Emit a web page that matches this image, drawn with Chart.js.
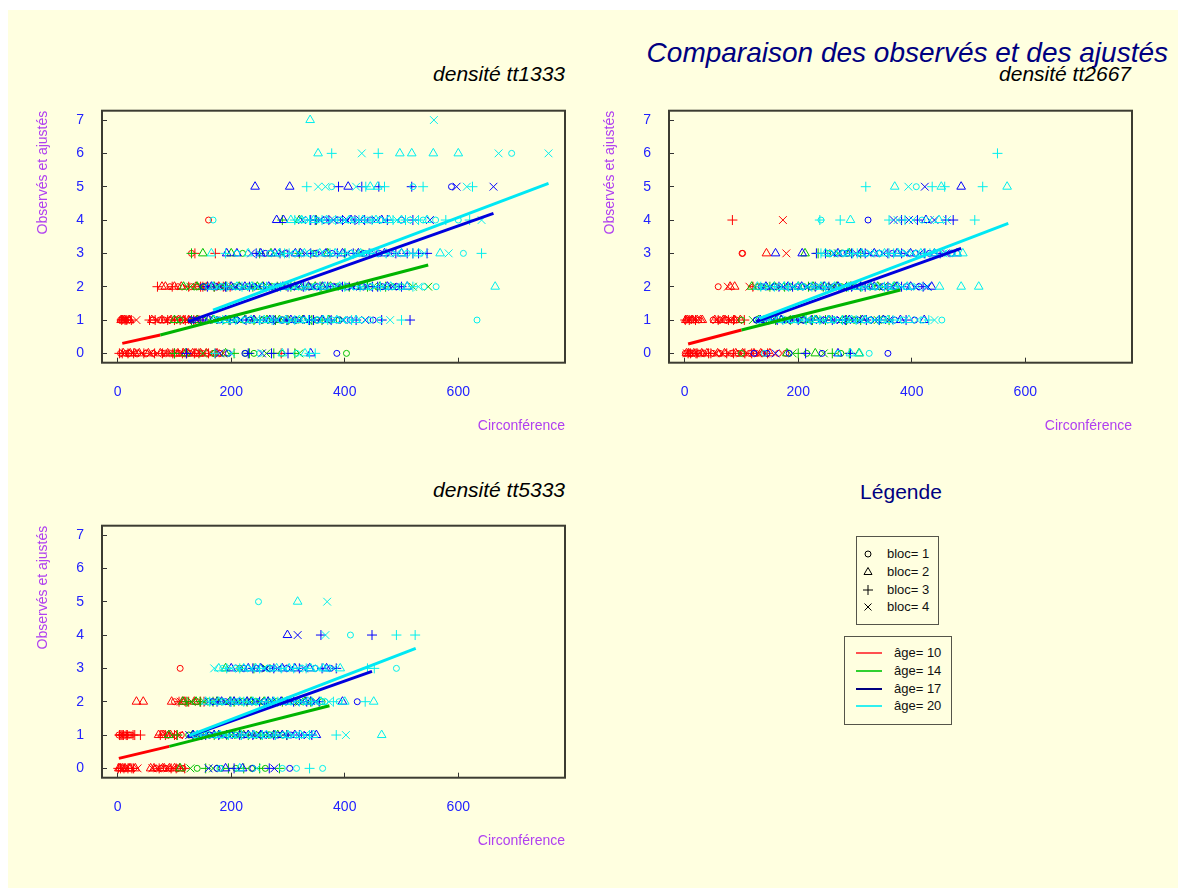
<!DOCTYPE html>
<html>
<head>
<meta charset="utf-8">
<script src="https://cdn.jsdelivr.net/npm/chart.js"></script>
<style>
  html, body { margin: 0; padding: 0; background: #fff; width: 1178px; height: 890px; overflow: hidden; font-family: "Liberation Sans", Arial, sans-serif; }
  #bg { position: absolute; left: 8px; top: 10px; width: 1170px; height: 878px; background: #ffffe0; }
  canvas.panel { position: absolute; }
  .t { position: absolute; white-space: nowrap; line-height: 1; }
  .box { position: absolute; border: 1.5px solid #55554a; box-sizing: border-box; }
  .row { position: absolute; height: 16px; line-height: 16px; font-size: 13px; color: #111; }
</style>
</head>
<body>
<div id="bg"></div>
<div class="t" style="right:10px;top:39px;font-size:28px;font-style:italic;color:#000080">Comparaison des observés et des ajustés</div>
<div class="t" style="right:613px;top:63px;font-size:21px;font-style:italic;color:#000">densité tt1333</div>
<div class="t" style="right:47px;top:63px;font-size:21px;font-style:italic;color:#000">densité tt2667</div>
<div class="t" style="right:613px;top:479px;font-size:21px;font-style:italic;color:#000">densité tt5333</div>

<canvas class="panel" id="c1333" width="590" height="450" style="left:0;top:0"></canvas>
<canvas class="panel" id="c2667" width="590" height="450" style="left:567px;top:0"></canvas>
<canvas class="panel" id="c5333" width="590" height="450" style="left:0;top:415px"></canvas>

<div class="t" style="left:851px;width:100px;text-align:center;top:481px;font-size:21px;color:#000080">Légende</div>
<div class="box" style="left:856px;top:536px;width:83px;height:89px"></div>
<div class="box" style="left:844px;top:636px;width:108px;height:89px"></div>
<div id="legend"></div>

<script>
// categories
const AGES = [10, 14, 17, 20];
const BLOCS = [1, 2, 3, 4];
const X_TICKS = [0, 200, 400, 600];
const Y_TICKS = [0, 1, 2, 3, 4, 5, 6, 7];

// observed points: [circonférence, observé, bloc]
const T1333_A10 = [
  [5,0,1],[8,0,3],[10,0,2],[12,0,4],[15,0,1],[18,0,3],[22,0,2],[26,0,4],[30,0,2],[35,0,1],[42,0,4],[50,0,1],[58,0,4],[65,0,3],[75,0,2],[82,0,1],[88,0,2],[92,0,4],[97,0,3],[102,0,1],[106,0,2],[110,0,4],[114,0,3],[118,0,1],[124,0,2],[130,0,4],[135,0,3],[140,0,1],[146,0,2],[152,0,4],[160,0,3],[168,0,1],[175,0,2],[186,0,4],[288,0,3],
  [3,0,3],[20,0,1],[28,0,3],[38,0,2],[46,0,3],[54,0,2],[62,0,1],[70,0,4],[79,0,3],[85,0,4],[95,0,1],[100,0,3],[108,0,1],[116,0,2],[121,0,3],[127,0,1],[132,0,2],[138,0,2],[143,0,3],[149,0,1],[156,0,2],[164,0,4],[172,0,3],[180,0,1],
  [5,1,1],[7,1,3],[9,1,2],[11,1,1],[13,1,3],[15,1,4],[18,1,1],[21,1,2],[24,1,3],[33,1,4],[56,1,3],[62,1,1],[70,1,4],[78,1,2],[82,1,1],[88,1,3],[94,1,2],[98,1,4],[104,1,1],[110,1,3],[116,1,2],[122,1,4],[128,1,1],[134,1,3],[140,1,2],[146,1,1],
  [6,1,2],[8,1,1],[10,1,4],[12,1,2],[14,1,1],[16,1,3],[20,1,2],[60,1,2],[66,1,3],[74,1,1],[86,1,4],[91,1,1],[100,1,3],[107,1,2],[113,1,1],[119,1,3],[125,1,2],[131,1,4],[137,1,1],[143,1,3],
  [70,2,3],[78,2,2],[84,2,2],[100,2,2],[106,2,1],[112,2,2],[120,2,4],[130,2,1],[138,2,2],[146,2,3],[150,2,3],[155,2,1],[162,2,4],[170,2,3],[178,2,2],[186,2,3],[198,2,3],
  [92,2,1],[96,2,3],[125,2,3],[142,2,1],[158,2,2],[166,2,1],[182,2,4],[192,2,3],
  [130,3,1],[136,3,3],[172,3,3],
  [160,4,1]
];
const T1333_A14 = [
  [100,0,3],[120,0,2],[150,0,4],[170,0,1],[190,0,2],[205,0,3],[225,0,1],[232,0,3],[240,0,1],[262,0,4],[275,0,3],[289,0,1],[312,0,3],[320,0,4],[403,0,1],
  [100,1,2],[130,1,3],[150,1,1],[168,1,2],[180,1,4],[196,1,3],[210,1,1],[224,1,2],[240,1,3],[256,1,1],[270,1,4],[285,1,2],[300,1,3],[318,1,1],[335,1,4],[350,1,1],[360,1,3],[372,1,2],[390,1,1],
  [110,1,1],[140,1,2],[160,1,4],[188,1,1],[203,1,2],[217,1,4],[232,1,1],[248,1,4],[263,1,2],[278,1,3],[292,1,1],[308,1,4],[326,1,2],[342,1,3],
  [116,2,2],[128,2,4],[140,2,2],[152,2,1],[170,2,3],[190,2,2],[205,2,1],[222,2,4],[238,2,3],[255,2,2],[272,2,1],[290,2,4],[305,2,3],[320,2,2],[340,2,1],[358,2,3],[375,2,2],[395,2,4],[420,2,1],[440,2,3],[462,2,2],[485,2,1],[520,2,4],[547,2,4],
  [146,2,4],[180,2,1],[214,2,2],[230,2,1],[246,2,2],[264,2,4],[281,2,3],[298,2,1],[312,2,2],[330,2,4],[348,2,2],[366,2,4],[385,2,1],[408,2,3],[430,2,2],[450,2,4],[472,2,3],[500,2,1],
  [130,3,3],[150,3,2],[200,3,2],[220,3,1],[250,3,3],[270,3,2],[290,3,4],[320,3,3],[345,3,1],[370,3,2],[400,3,3],[425,3,4],
  [290,4,3],[320,4,2],[350,4,3]
];
const T1333_A17 = [
  [121,0,3],[180,0,4],[195,0,1],[224,0,1],[230,0,3],[254,0,4],[271,0,3],[300,0,3],[340,0,2],[386,0,1],
  [130,1,1],[150,1,3],[170,1,4],[190,1,2],[208,1,1],[226,1,3],[240,1,2],[260,1,4],[275,1,3],[290,1,1],[305,1,2],[320,1,4],[338,1,3],[352,1,1],[368,1,4],[386,1,1],[410,1,1],[420,1,3],[450,1,1],[515,1,3],
  [140,1,4],[160,1,2],[180,1,1],[198,1,3],[217,1,4],[233,1,1],[250,1,3],[268,1,2],[283,1,4],[298,1,3],[312,1,1],[328,1,2],[345,1,3],[360,1,2],[376,1,3],[398,1,4],[436,1,4],[465,1,3],
  [150,2,1],[165,2,2],[180,2,4],[200,2,2],[216,2,1],[232,2,3],[248,2,4],[266,2,2],[282,2,1],[300,2,3],[318,2,4],[336,2,2],[352,2,1],[370,2,3],[388,2,4],[405,2,1],[422,2,2],[440,2,4],[458,2,3],[475,2,2],[492,2,1],[510,2,2],
  [158,2,3],[173,2,1],[190,2,3],[208,2,4],[224,2,2],[240,2,1],[257,2,3],[274,2,4],[291,2,2],[309,2,1],[327,2,3],[344,2,4],[361,2,2],[379,2,1],[396,2,3],[414,2,4],[431,2,1],[449,2,3],[466,2,1],[484,2,4],[500,2,3],
  [192,3,2],[210,3,2],[235,3,4],[252,3,2],[268,3,1],[286,3,3],[305,3,4],[322,3,2],[340,3,3],[358,3,4],[378,3,1],[396,3,2],[415,3,3],[434,3,1],[452,3,4],[470,3,2],[490,3,3],[510,3,3],[530,3,3],[545,3,3],
  [244,3,3],[260,3,1],[277,3,2],[295,3,1],[313,3,2],[331,3,4],[349,3,1],[367,3,2],[387,3,3],[405,3,4],[424,3,2],[443,3,3],[461,3,1],[480,3,4],[500,3,2],[520,3,3],
  [280,4,2],[292,4,2],[325,4,4],[340,4,3],[356,4,4],[372,4,3],[388,4,1],[404,4,4],[418,4,3],[435,4,3],[455,4,4],[475,4,3],[500,4,1],[520,4,3],[550,4,4],
  [348,4,3],[364,4,1],[380,4,4],[396,4,3],[411,4,2],[427,4,4],[445,4,1],[465,4,2],
  [242,5,2],[303,5,2],[389,5,3],[406,5,2],[430,5,3],[460,5,3],[518,5,3],[588,5,1],[597,5,4],[662,5,4]
];
const T1333_A20 = [
  [171,0,3],[200,0,4],[250,0,1],[290,0,2],[315,0,1],[330,0,2],[338,0,3],[348,0,3],
  [170,1,2],[185,1,3],[200,1,1],[215,1,4],[235,1,2],[250,1,3],[265,1,1],[280,1,4],[296,1,2],[312,1,3],[328,1,1],[345,1,4],[362,1,2],[378,1,1],[395,1,4],[412,1,3],[430,1,1],[445,1,1],[462,1,1],[480,1,4],[500,1,3],[633,1,1],
  [178,1,1],[192,1,2],[208,1,3],[225,1,1],[243,1,4],[258,1,2],[272,1,3],[288,1,1],[304,1,4],[320,1,2],[336,1,3],[353,1,1],[370,1,3],[386,1,2],[404,1,1],[420,1,2],
  [160,2,1],[175,2,4],[192,2,3],[210,2,2],[228,2,1],[245,2,4],[262,2,3],[278,2,1],[295,2,2],[312,2,4],[330,2,3],[348,2,1],[365,2,2],[382,2,4],[400,2,3],[418,2,1],[436,2,2],[454,2,4],[472,2,1],[490,2,4],[510,2,2],[530,2,4],[561,2,1],[665,2,2],
  [168,2,2],[184,2,1],[201,2,4],[219,2,3],[236,2,2],[253,2,1],[270,2,4],[287,2,3],[303,2,1],[321,2,2],[339,2,4],[356,2,3],[373,2,1],[391,2,2],[409,2,4],[427,2,3],[445,2,1],[463,2,3],[481,2,2],[500,2,1],[520,2,3],[540,2,1],
  [165,3,2],[190,3,3],[210,3,1],[230,3,2],[250,3,4],[268,3,1],[285,3,2],[302,3,3],[320,3,4],[338,3,1],[356,3,2],[374,3,3],[392,3,4],[410,3,1],[428,3,2],[446,3,3],[464,3,4],[482,3,1],[500,3,2],[520,3,3],[540,3,4],[568,3,2],[583,3,4],[609,3,1],[641,3,3],
  [278,3,4],[294,3,3],[311,3,1],[329,3,2],[347,3,4],[365,3,1],[383,3,2],[401,3,3],[419,3,4],[437,3,1],[455,3,2],[473,3,3],[491,3,4],[510,3,1],[530,3,2],
  [168,4,1],[305,4,2],[318,4,4],[330,4,1],[345,4,2],[360,4,3],[375,4,4],[392,4,1],[408,4,2],[425,4,3],[440,4,1],[455,4,2],[470,4,4],[485,4,3],[500,4,2],[515,4,1],[530,4,3],[545,4,2],[560,4,1],[578,4,3],[600,4,1],[620,4,3],[641,4,4],
  [312,4,3],[324,4,2],[338,4,3],[352,4,1],[368,4,2],[384,4,3],[400,4,4],[416,4,1],[432,4,2],[448,4,3],[462,4,1],[478,4,2],[492,4,4],[507,4,3],[522,4,4],[538,4,1],
  [333,5,3],[353,5,4],[366,5,4],[377,5,1],[420,5,4],[437,5,3],[445,5,2],[458,5,2],[470,5,3],[520,5,1],[538,5,3],[615,5,4],[625,5,3],
  [353,6,2],[377,6,3],[430,6,4],[459,6,3],[497,6,2],[518,6,2],[556,6,2],[600,6,2],[671,6,4],[694,6,1],[759,6,4],
  [339,7,2],[557,7,4]
];

const T2667_A10 = [
  [3,0,2],[6,0,3],[9,0,1],[12,0,4],[16,0,2],[20,0,3],[25,0,1],[30,0,2],[36,0,4],[42,0,3],[50,0,1],[58,0,2],[66,0,4],[74,0,3],[82,0,1],[90,0,2],[98,0,4],[106,0,3],[114,0,1],[122,0,2],[130,0,4],[138,0,1],[146,0,3],[165,0,1],[178,0,1],
  [1,0,1],[4,0,4],[7,0,2],[10,0,3],[14,0,1],[18,0,4],[22,0,3],[27,0,4],[33,0,1],[39,0,2],[46,0,3],[54,0,4],[62,0,1],[70,0,2],[78,0,4],[86,0,3],[94,0,1],[102,0,2],[110,0,4],[118,0,3],[126,0,1],[134,0,2],[142,0,4],[150,0,2],
  [2,1,2],[5,1,2],[8,1,3],[12,1,2],[16,1,1],[22,1,2],[28,1,2],[50,1,1],[56,1,4],[62,1,1],[68,1,2],[74,1,1],[80,1,4],[86,1,3],[91,1,1],[98,1,2],[105,1,3],
  [1,1,3],[3,1,1],[6,1,4],[10,1,1],[14,1,2],[19,1,3],[25,1,1],[31,1,2],[53,1,2],[59,1,3],[65,1,4],[71,1,2],[77,1,3],[83,1,1],[88,1,2],[94,1,4],
  [59,2,1],[76,2,4],[80,2,2],[88,2,2],[114,2,4],[120,2,3],[128,2,1],
  [101,3,1],[102,3,1],[144,3,2],[179,3,4],
  [84,4,3],[173,4,4]
];
const T2667_A14 = [
  [100,0,1],[180,0,2],[190,0,4],[200,0,3],[215,0,1],[230,0,2],[245,0,4],[260,0,3],[275,0,1],[290,0,3],[307,0,2],
  [100,1,1],[120,1,4],[145,1,2],[160,1,3],[178,1,1],[195,1,4],[210,1,2],[225,1,3],[240,1,1],[255,1,2],[270,1,4],[285,1,3],[300,1,1],[318,1,2],[340,1,4],[360,1,3],
  [130,1,2],[152,1,1],[170,1,2],[186,1,3],[202,1,1],[218,1,4],[232,1,2],[248,1,3],[262,1,1],[278,1,2],[292,1,4],[310,1,3],[328,1,1],[350,1,2],
  [118,2,2],[130,2,1],[150,2,3],[168,2,4],[185,2,1],[200,2,2],[218,2,3],[235,2,4],[252,2,1],[268,2,2],[285,2,3],[300,2,1],[320,2,4],[340,2,2],[360,2,1],
  [140,2,4],[158,2,2],[176,2,3],[193,2,4],[210,2,1],[226,2,2],[244,2,3],[260,2,4],[276,2,1],[292,2,2],[310,2,3],[330,2,1],[350,2,4],[370,2,2],
  [212,3,2],[235,3,3],[252,3,1],[270,3,4],[290,3,2],[310,3,3]
];
const T2667_A17 = [
  [122,0,1],[145,0,1],[160,0,4],[184,0,1],[213,0,3],[242,0,1],[270,0,2],[292,0,3],[358,0,1],
  [126,1,1],[140,1,3],[155,1,4],[170,1,2],[185,1,1],[200,1,3],[215,1,4],[230,1,2],[245,1,1],[260,1,3],[275,1,4],[290,1,2],[305,1,1],[320,1,3],[335,1,4],[350,1,2],[370,1,1],[390,1,3],[422,1,2],
  [133,1,2],[148,1,1],[163,1,3],[178,1,4],[193,1,2],[208,1,1],[223,1,3],[238,1,4],[253,1,2],[268,1,1],[283,1,3],[298,1,4],[313,1,2],[328,1,1],[343,1,3],[360,1,4],[380,1,2],[405,1,1],
  [135,2,1],[150,2,4],[166,2,3],[182,2,2],[198,2,1],[214,2,4],[230,2,3],[246,2,2],[262,2,1],[278,2,4],[294,2,3],[310,2,2],[326,2,1],[342,2,4],[358,2,3],[374,2,2],[390,2,1],[406,2,4],[420,2,3],[435,2,2],
  [143,2,2],[158,2,1],[174,2,4],[190,2,3],[206,2,2],[222,2,1],[238,2,4],[254,2,3],[270,2,2],[286,2,1],[302,2,4],[318,2,3],[334,2,2],[350,2,1],[366,2,4],[382,2,3],[398,2,2],[413,2,1],[428,2,4],
  [160,3,2],[207,3,2],[232,3,3],[248,3,3],[262,3,4],[278,3,1],[294,3,3],[310,3,2],[326,3,4],[342,3,1],[358,3,3],[374,3,2],[390,3,4],[406,3,1],[422,3,3],[440,3,2],[460,3,4],[480,3,2],
  [270,3,2],[286,3,1],[302,3,4],[318,3,3],[334,3,2],[350,3,4],[366,3,1],[382,3,3],[398,3,2],[414,3,4],[431,3,1],[450,3,3],[470,3,1],
  [323,4,1],[368,4,4],[382,4,3],[395,4,4],[410,4,3],[425,4,2],[440,4,4],[460,4,3],[473,4,3],
  [423,5,4],[487,5,2]
];
const T2667_A20 = [
  [140,0,1],[270,0,1],[292,0,2],[308,0,2],[325,0,1],
  [130,1,1],[148,1,3],[165,1,2],[182,1,4],[198,1,1],[214,1,3],[230,1,2],[246,1,4],[262,1,1],[278,1,3],[294,1,2],[310,1,4],[326,1,1],[342,1,3],[358,1,2],[376,1,4],[395,1,2],[430,1,3],[440,1,4],[453,1,1],
  [138,1,4],[156,1,1],[173,1,3],[190,1,2],[206,1,4],[222,1,1],[238,1,3],[254,1,2],[270,1,4],[286,1,1],[302,1,3],[318,1,2],[334,1,4],[350,1,1],[367,1,3],[385,1,1],[410,1,4],[420,1,1],
  [128,2,2],[140,2,1],[158,2,3],[175,2,2],[192,2,4],[208,2,1],[224,2,3],[240,2,2],[256,2,4],[272,2,1],[288,2,3],[304,2,2],[320,2,4],[336,2,1],[352,2,3],[368,2,2],[384,2,4],[400,2,1],[426,2,4],[449,2,2],[487,2,2],[518,2,2],
  [134,2,3],[149,2,4],[166,2,1],[183,2,3],[200,2,2],[216,2,4],[232,2,1],[248,2,3],[264,2,2],[280,2,4],[296,2,1],[312,2,3],[328,2,2],[344,2,4],[360,2,1],[376,2,3],[392,2,2],[410,2,4],
  [240,3,3],[256,3,1],[272,3,4],[288,3,2],[304,3,3],[320,3,1],[336,3,4],[352,3,2],[368,3,3],[384,3,1],[400,3,4],[416,3,2],[432,3,3],[448,3,1],[464,3,4],[480,3,2],[490,3,2],
  [248,3,2],[264,3,4],[280,3,1],[296,3,3],[312,3,2],[328,3,4],[344,3,1],[360,3,3],[376,3,2],[392,3,4],[408,3,1],[424,3,3],[440,3,2],[456,3,4],[472,3,1],
  [238,4,3],[240,4,1],[274,4,3],[292,4,2],[360,4,3],[375,4,4],[388,4,3],[402,4,4],[418,4,1],[432,4,4],[448,4,2],[462,4,4],[511,4,3],
  [319,5,3],[370,5,2],[394,5,4],[408,5,1],[436,5,3],[452,5,2],[458,5,3],[525,5,3],[568,5,2],
  [551,6,3]
];

const T5333_A10 = [
  [2,0,2],[5,0,3],[8,0,2],[11,0,3],[14,0,1],[18,0,3],[22,0,2],[28,0,3],[35,0,4],[58,0,2],[64,0,2],[70,0,4],[76,0,1],[82,0,2],[88,0,4],[94,0,3],[100,0,2],[106,0,1],[112,0,4],[118,0,3],
  [1,0,3],[4,0,2],[7,0,4],[10,0,1],[13,0,2],[16,0,4],[20,0,2],[25,0,3],[31,0,2],[61,0,4],[67,0,1],[73,0,3],[79,0,2],[85,0,1],[91,0,2],[97,0,4],[103,0,3],[109,0,2],[115,0,1],
  [3,1,3],[6,1,3],[9,1,3],[12,1,1],[15,1,3],[19,1,1],[24,1,1],[30,1,3],[40,1,3],[72,1,2],[78,1,2],[84,1,3],[90,1,2],[96,1,4],[104,1,3],[112,1,1],
  [2,1,1],[4,1,3],[7,1,1],[10,1,3],[13,1,1],[17,1,3],[21,1,1],[27,1,3],[75,1,3],[81,1,2],[87,1,1],[93,1,2],[100,1,3],[108,1,4],
  [33,2,2],[45,2,2],[95,2,2],[108,2,3],[114,2,2],[120,2,3],[130,2,4],[140,2,1],[152,2,3],
  [100,2,1],[111,2,4],[117,2,2],[125,2,3],[135,2,2],[146,2,3],
  [110,3,1]
];
const T5333_A14 = [
  [110,0,2],[128,0,4],[140,0,1],[155,0,3],[168,0,4],[182,0,1],[195,0,3],[208,0,1],[222,0,3],[236,0,1],[250,0,3],[260,0,1],[285,0,3],
  [90,1,2],[105,1,3],[125,1,1],[140,1,4],[155,1,2],[170,1,3],[185,1,1],[200,1,4],[215,1,2],[230,1,3],[245,1,1],[260,1,4],[275,1,2],[290,1,1],
  [132,1,2],[148,1,3],[162,1,1],[178,1,2],[192,1,3],[208,1,1],[222,1,2],[238,1,4],[252,1,3],[268,1,1],[282,1,2],[298,1,3],
  [115,2,2],[130,2,4],[145,2,3],[160,2,1],[175,2,2],[190,2,4],[205,2,3],[220,2,1],[235,2,2],[250,2,4],[265,2,3],[280,2,1],[300,2,2],[320,2,4],[340,2,3],[360,2,1],
  [122,2,3],[138,2,2],[152,2,4],[168,2,3],[182,2,1],[198,2,2],[212,2,4],[228,2,3],[242,2,1],[258,2,2],[272,2,4],[290,2,3],[310,2,1],[330,2,2],[350,2,4],
  [190,3,2],[215,3,1],[240,3,3],[262,3,4]
];
const T5333_A17 = [
  [160,0,4],[175,0,1],[190,0,2],[205,0,3],[220,0,2],[238,0,1],[267,0,3],[276,0,4],[303,0,1],
  [126,1,4],[140,1,1],[155,1,3],[170,1,2],[185,1,4],[200,1,1],[215,1,3],[230,1,2],[245,1,4],[260,1,1],[275,1,3],[290,1,2],[305,1,1],[320,1,3],[335,1,4],[350,1,2],
  [133,1,2],[148,1,3],[162,1,1],[178,1,3],[192,1,2],[208,1,4],[222,1,1],[238,1,3],[252,1,2],[268,1,4],[282,1,1],[298,1,3],[312,1,2],[328,1,1],[342,1,3],
  [160,2,4],[175,2,3],[190,2,1],[205,2,2],[220,2,4],[235,2,1],[250,2,3],[265,2,2],[280,2,4],[295,2,1],[310,2,3],[325,2,4],[340,2,2],[355,2,3],[396,2,2],[422,2,1],
  [168,2,1],[183,2,2],[198,2,3],[213,2,1],[228,2,2],[243,2,4],[258,2,1],[273,2,3],[288,2,2],[303,2,4],[318,2,1],[333,2,3],[348,2,4],
  [200,3,2],[215,3,4],[230,3,2],[245,3,1],[260,3,4],[275,3,3],[290,3,2],[305,3,4],[320,3,3],[338,3,2],[360,3,3],[375,3,1],[385,3,3],
  [222,3,1],[238,3,3],[252,3,2],[268,3,1],[282,3,4],[298,3,1],[312,3,2],[328,3,4],[348,3,1],[368,3,2],
  [299,4,2],[317,4,4],[358,4,3],[448,4,3]
];
const T5333_A20 = [
  [180,0,1],[215,0,2],[245,0,4],[290,0,1],[315,0,1],[338,0,3],[361,0,1],
  [140,1,2],[152,1,1],[166,1,4],[180,1,2],[195,1,3],[210,1,1],[225,1,4],[240,1,2],[255,1,3],[270,1,1],[285,1,4],[300,1,2],[315,1,1],[330,1,4],[345,1,2],[385,1,3],[402,1,4],[465,1,2],
  [146,1,3],[159,1,2],[173,1,1],[188,1,4],[202,1,2],[218,1,3],[232,1,1],[248,1,4],[262,1,2],[278,1,3],[292,1,1],[308,1,4],[322,1,2],[338,1,3],
  [155,2,2],[170,2,4],[185,2,1],[200,2,3],[215,2,2],[230,2,4],[245,2,1],[260,2,3],[275,2,2],[290,2,4],[305,2,1],[320,2,3],[335,2,2],[350,2,4],[365,2,1],[380,2,3],[400,2,2],[436,2,3],[451,2,2],
  [162,2,3],[178,2,2],[192,2,4],[208,2,1],[222,2,3],[238,2,2],[252,2,4],[268,2,1],[282,2,3],[298,2,2],[312,2,4],[328,2,1],[342,2,3],[358,2,2],[372,2,4],[390,2,1],
  [170,3,4],[178,3,2],[192,3,3],[208,3,1],[222,3,2],[236,3,4],[250,3,3],[265,3,1],[280,3,2],[295,3,4],[310,3,3],[325,3,1],[340,3,2],[355,3,4],[370,3,1],[392,3,2],[440,3,3],[452,3,3],[491,3,1],
  [185,3,1],[200,3,4],[215,3,3],[229,3,1],[243,3,2],[257,3,4],[272,3,1],[288,3,3],[302,3,2],[318,3,4],[332,3,3],[348,3,1],[362,3,2],[380,3,4],
  [366,4,4],[410,4,1],[491,4,3],[524,4,3],
  [248,5,1],[317,5,2],[369,5,4]
];

// fitted lines per age: [x start, y start, x end, y end]
const FIT_1333 = [[8,0.30,75,0.55],[75,0.55,547,2.65],[124,0.95,662,4.2],[168,1.3,759,5.1]];
const FIT_2667 = [[6,0.28,100,0.70],[100,0.70,380,1.9],[126,0.95,487,3.15],[132,1.05,570,3.9]];
const FIT_5333 = [[2,0.30,91,0.66],[91,0.66,373,1.88],[123,0.95,448,2.91],[126,0.98,525,3.6]];

const PT_COL = ['#ff0000', '#00c000', '#0000ff', '#00eeee'];
const LINE_COL = ['#ff0000', '#00b400', '#0000dd', '#00e8f4'];
const LEG_COL = ['#ff5050', '#30d030', '#000080', '#30f0f0'];
const STYLE = {1: 'circle', 2: 'triangle', 3: 'cross', 4: 'crossRot'};
const RAD = {1: 3, 2: 5, 3: 5, 4: 5.5};

Chart.defaults.font.family = '"Liberation Sans", Arial, sans-serif';

const frame = {
  id: 'frame',
  afterDraw(chart) {
    const {ctx, chartArea: a} = chart;
    ctx.save();
    ctx.strokeStyle = '#3c3c32';
    ctx.lineWidth = 2;
    ctx.strokeRect(a.left, a.top, a.right - a.left, a.bottom - a.top);
    ctx.restore();
  }
};

function axis(title, ticks, min, max, isX) {
  return {
    type: 'linear', min, max,
    afterBuildTicks: s => { s.ticks = ticks.map(v => ({value: v})); },
    afterFit: s => { if (isX) s.height = 87.3; else s.width = 102; },
    border: {display: false},
    grid: {drawOnChartArea: false, drawTicks: true, tickLength: -5, color: '#333', lineWidth: 1},
    ticks: {color: '#2222ff', font: {size: 14}, padding: isX ? 26 : 23, maxRotation: 0},
    title: {display: true, text: title, align: 'end', color: '#b040f0', font: {size: 14},
      padding: isX ? {top: 0, bottom: 15.6} : {top: 34.6, bottom: 0}}
  };
}

function buildPanel(id, pts, fits) {
  const datasets = [];
  fits.forEach((f, i) => datasets.push({
    type: 'line', data: [{x: f[0], y: f[1]}, {x: f[2], y: f[3]}],
    borderColor: LINE_COL[i], borderWidth: 3, pointRadius: 0, fill: false, order: 3 - i
  }));
  pts.forEach((arr, i) => datasets.push({
    type: 'scatter', label: `âge= ${AGES[i]}`,
    data: arr.map(p => ({x: p[0], y: p[1], b: p[2]})),
    borderColor: PT_COL[i], backgroundColor: 'transparent', pointBorderWidth: 1,
    pointStyle: c => STYLE[c.raw ? c.raw.b : 1],
    pointRadius: c => RAD[c.raw ? c.raw.b : 1],
    order: 10 - i
  }));
  new Chart(document.getElementById(id), {
    type: 'scatter',
    data: {datasets},
    options: {
      responsive: false, animation: false, events: [],
      layout: {padding: {top: 110.7, right: 25, bottom: 0, left: 0}},
      plugins: {legend: {display: false}, tooltip: {enabled: false}},
      scales: {
        x: axis('Circonférence', X_TICKS, -27.7, 788, true),
        y: axis('Observés et ajustés', Y_TICKS, -0.28, 7.28, false)
      }
    },
    plugins: [frame]
  });
}

buildPanel('c1333', [T1333_A10, T1333_A14, T1333_A17, T1333_A20], FIT_1333);
buildPanel('c2667', [T2667_A10, T2667_A14, T2667_A17, T2667_A20], FIT_2667);
buildPanel('c5333', [T5333_A10, T5333_A14, T5333_A17, T5333_A20], FIT_5333);

// legend
const SYM = {
  1: '<circle cx="6" cy="6" r="3" fill="none" stroke="#000" stroke-width="1"/>',
  2: '<path d="M6 1.5 L10 8.5 L2 8.5 Z" fill="none" stroke="#000" stroke-width="1"/>',
  3: '<path d="M1 6 H11 M6 1 V11" stroke="#000" stroke-width="1"/>',
  4: '<path d="M2.5 2.5 L9.5 9.5 M9.5 2.5 L2.5 9.5" stroke="#000" stroke-width="1"/>'
};
const leg = document.getElementById('legend');
let html = '';
BLOCS.forEach((b, i) => {
  const cy = 554.3 + i * 17.7;
  html += `<svg style="position:absolute;left:862px;top:${cy - 6}px" width="12" height="12">${SYM[b]}</svg>`;
  html += `<div class="row" style="left:887px;top:${cy - 8}px">bloc= ${b}</div>`;
});
AGES.forEach((a, i) => {
  const cy = Math.round(653 + i * 17.8);
  html += `<div style="position:absolute;left:856px;top:${cy - 1}px;width:26px;height:2px;background:${LEG_COL[i]}"></div>`;
  html += `<div class="row" style="left:894px;top:${cy - 8}px">âge= ${a}</div>`;
});
leg.innerHTML = html;
</script>
</body>
</html>
